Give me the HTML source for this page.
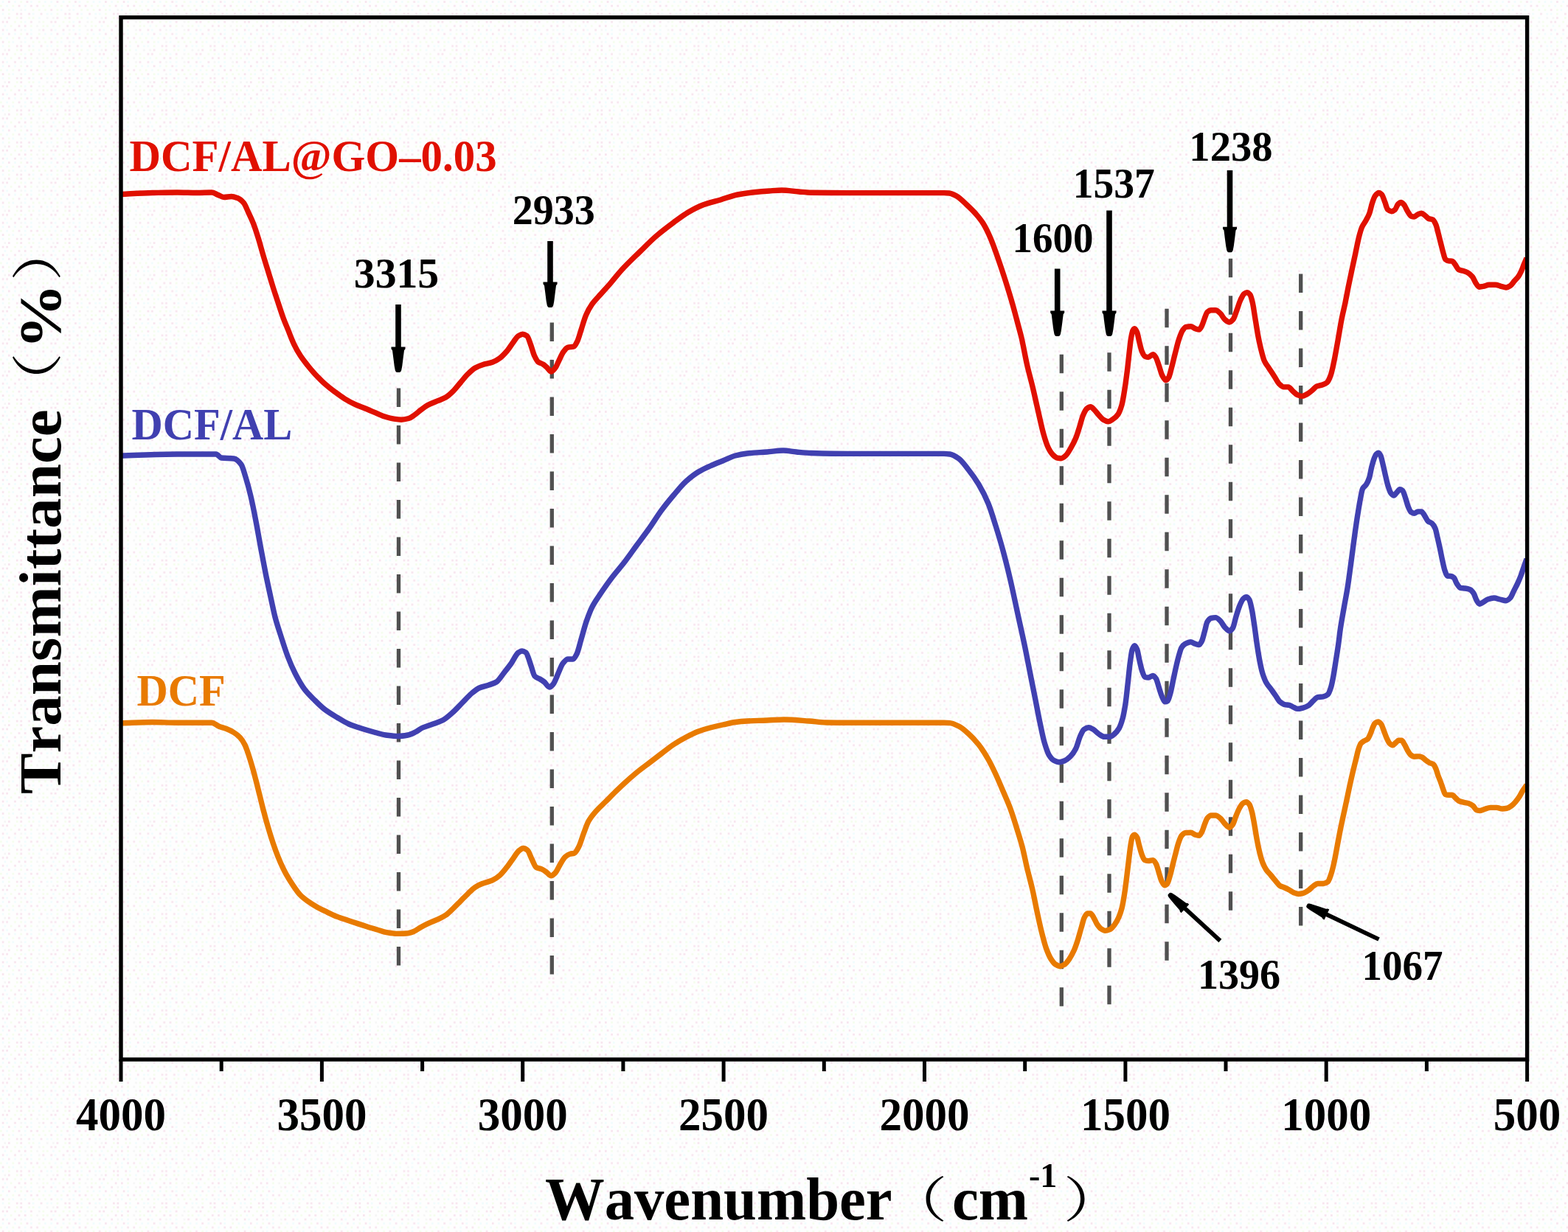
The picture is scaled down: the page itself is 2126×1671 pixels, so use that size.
<!DOCTYPE html>
<html lang="en"><head><meta charset="utf-8"><title>FTIR spectra</title>
<style>
html,body{margin:0;padding:0;background:#fefefe;}
body{width:2126px;height:1671px;overflow:hidden;}
svg{display:block;}
text{font-family:"Liberation Serif","Noto Serif CJK SC",serif;font-weight:bold;font-kerning:none;}
.paren{font-family:"Noto Serif CJK SC","Noto Sans CJK SC",serif;font-weight:normal;}
</style></head><body>
<svg width="2126" height="1671" viewBox="0 0 2126 1671">
<rect x="0" y="0" width="2126" height="1671" fill="#fefefe"/>

<defs><pattern id="dither" width="65.6" height="43.6" patternUnits="userSpaceOnUse"><rect x="2.7" y="1.20" width="2.7" height="2.7" fill="#f0fcfd"/><rect x="10.9" y="1.20" width="2.7" height="2.7" fill="#f7e4ee"/><rect x="19.1" y="1.20" width="2.7" height="2.7" fill="#f0fcfd"/><rect x="27.3" y="1.20" width="2.7" height="2.7" fill="#f4fdec"/><rect x="35.5" y="1.20" width="2.7" height="2.7" fill="#f7e4ee"/><rect x="41.0" y="1.20" width="2.7" height="2.7" fill="#f0fcfd"/><rect x="51.9" y="1.20" width="2.7" height="2.7" fill="#f4fdec"/><rect x="60.1" y="1.20" width="2.7" height="2.7" fill="#f0fcfd"/><rect x="0.0" y="6.65" width="2.7" height="2.7" fill="#f4fdec"/><rect x="8.2" y="6.65" width="2.7" height="2.7" fill="#f0fcfd"/><rect x="16.4" y="6.65" width="2.7" height="2.7" fill="#f4fdec"/><rect x="24.6" y="6.65" width="2.7" height="2.7" fill="#f7e4ee"/><rect x="32.8" y="6.65" width="2.7" height="2.7" fill="#f0fcfd"/><rect x="41.0" y="6.65" width="2.7" height="2.7" fill="#f7e4ee"/><rect x="49.2" y="6.65" width="2.7" height="2.7" fill="#f7e4ee"/><rect x="57.4" y="6.65" width="2.7" height="2.7" fill="#f4fdec"/><rect x="2.7" y="12.10" width="2.7" height="2.7" fill="#f7e4ee"/><rect x="10.9" y="12.10" width="2.7" height="2.7" fill="#f4fdec"/><rect x="16.4" y="12.10" width="2.7" height="2.7" fill="#f0fcfd"/><rect x="27.3" y="12.10" width="2.7" height="2.7" fill="#f5f5f5"/><rect x="32.8" y="12.10" width="2.7" height="2.7" fill="#f0fcfd"/><rect x="43.7" y="12.10" width="2.7" height="2.7" fill="#f4fdec"/><rect x="51.9" y="12.10" width="2.7" height="2.7" fill="#f4fdec"/><rect x="60.1" y="12.10" width="2.7" height="2.7" fill="#f4fdec"/><rect x="2.7" y="17.55" width="2.7" height="2.7" fill="#f0fcfd"/><rect x="10.9" y="17.55" width="2.7" height="2.7" fill="#f4fdec"/><rect x="21.8" y="17.55" width="2.7" height="2.7" fill="#f7e4ee"/><rect x="27.3" y="17.55" width="2.7" height="2.7" fill="#f7e4ee"/><rect x="38.2" y="17.55" width="2.7" height="2.7" fill="#f7e4ee"/><rect x="43.7" y="17.55" width="2.7" height="2.7" fill="#f0fcfd"/><rect x="54.6" y="17.55" width="2.7" height="2.7" fill="#f7e4ee"/><rect x="62.8" y="17.55" width="2.7" height="2.7" fill="#f0fcfd"/><rect x="5.4" y="23.00" width="2.7" height="2.7" fill="#f5f5f5"/><rect x="10.9" y="23.00" width="2.7" height="2.7" fill="#f7e4ee"/><rect x="21.8" y="23.00" width="2.7" height="2.7" fill="#f4fdec"/><rect x="27.3" y="23.00" width="2.7" height="2.7" fill="#f7e4ee"/><rect x="38.2" y="23.00" width="2.7" height="2.7" fill="#f4fdec"/><rect x="43.7" y="23.00" width="2.7" height="2.7" fill="#f4fdec"/><rect x="51.9" y="23.00" width="2.7" height="2.7" fill="#f0fcfd"/><rect x="62.8" y="23.00" width="2.7" height="2.7" fill="#f5f5f5"/><rect x="2.7" y="28.45" width="2.7" height="2.7" fill="#f7e4ee"/><rect x="8.2" y="28.45" width="2.7" height="2.7" fill="#f7e4ee"/><rect x="19.1" y="28.45" width="2.7" height="2.7" fill="#f4fdec"/><rect x="27.3" y="28.45" width="2.7" height="2.7" fill="#f4fdec"/><rect x="32.8" y="28.45" width="2.7" height="2.7" fill="#f0fcfd"/><rect x="41.0" y="28.45" width="2.7" height="2.7" fill="#f7e4ee"/><rect x="51.9" y="28.45" width="2.7" height="2.7" fill="#f5f5f5"/><rect x="57.4" y="28.45" width="2.7" height="2.7" fill="#f4fdec"/><rect x="62.9" y="33.90" width="2.7" height="2.7" fill="#f4fdec"/><rect x="5.5" y="33.90" width="2.7" height="2.7" fill="#f0fcfd"/><rect x="13.7" y="33.90" width="2.7" height="2.7" fill="#f4fdec"/><rect x="24.6" y="33.90" width="2.7" height="2.7" fill="#f7e4ee"/><rect x="32.8" y="33.90" width="2.7" height="2.7" fill="#f7e4ee"/><rect x="41.0" y="33.90" width="2.7" height="2.7" fill="#f4fdec"/><rect x="49.2" y="33.90" width="2.7" height="2.7" fill="#f5f5f5"/><rect x="57.4" y="33.90" width="2.7" height="2.7" fill="#f4fdec"/><rect x="2.7" y="39.35" width="2.7" height="2.7" fill="#f7e4ee"/><rect x="8.2" y="39.35" width="2.7" height="2.7" fill="#f0fcfd"/><rect x="19.1" y="39.35" width="2.7" height="2.7" fill="#f7e4ee"/><rect x="27.3" y="39.35" width="2.7" height="2.7" fill="#f5f5f5"/><rect x="32.8" y="39.35" width="2.7" height="2.7" fill="#f0fcfd"/><rect x="41.0" y="39.35" width="2.7" height="2.7" fill="#f0fcfd"/><rect x="51.9" y="39.35" width="2.7" height="2.7" fill="#f5f5f5"/><rect x="57.4" y="39.35" width="2.7" height="2.7" fill="#f7e4ee"/></pattern></defs>
<rect x="0" y="0" width="2126" height="1671" fill="url(#dither)"/>
<g stroke="#505050" stroke-width="5.3" stroke-dasharray="25.5 25.0" fill="none">
<line x1="540.5" y1="526.5" x2="540.5" y2="1309.5"/>
<line x1="748.3" y1="437.5" x2="748.3" y2="1321.5"/>
<line x1="1439.3" y1="480.7" x2="1439.3" y2="1364.7"/>
<line x1="1504" y1="478.2" x2="1504" y2="1362.2"/>
<line x1="1582" y1="418.8" x2="1582" y2="1302.8"/>
<line x1="1668.5" y1="350.7" x2="1668.5" y2="1234.7"/>
<line x1="1763.7" y1="371.5" x2="1763.7" y2="1255.5"/>
</g>
<defs><clipPath id="plotclip"><rect x="164" y="23.6" width="1906.6" height="1413.4"/></clipPath></defs>
<g clip-path="url(#plotclip)">
<path d="M164.0,980.8C178.3,980.4 192.5,979.5 206.8,979.5C217.9,979.5 229.1,980.2 240.2,980.2C255.8,980.2 271.4,980.2 287.0,980.2C290.3,980.2 293.7,983.9 297.0,985.2C300.3,986.5 303.7,987.2 307.0,988.5C310.3,989.8 313.7,991.4 317.0,993.5C319.8,995.2 322.6,997.2 325.4,1000.2C327.6,1002.5 329.8,1005.9 332.0,1010.2C333.7,1013.5 335.3,1018.7 337.0,1023.6C338.7,1028.6 340.4,1034.4 342.1,1040.3C343.8,1046.1 345.4,1052.3 347.1,1058.7C348.8,1065.1 350.4,1072.0 352.1,1078.7C353.8,1085.4 355.4,1092.3 357.1,1098.7C358.8,1105.1 360.4,1111.3 362.1,1117.1C363.8,1122.9 365.4,1128.5 367.1,1133.8C369.3,1140.9 371.6,1147.7 373.8,1153.8C376.0,1159.9 378.3,1165.5 380.5,1170.5C383.3,1176.7 386.0,1182.3 388.8,1187.2C391.6,1192.2 394.4,1196.5 397.2,1200.6C400.5,1205.5 403.9,1210.6 407.2,1214.0C410.5,1217.4 413.9,1219.9 417.2,1222.3C421.7,1225.5 426.1,1228.2 430.6,1230.7C435.0,1233.2 439.5,1235.2 443.9,1237.3C448.4,1239.4 452.8,1241.7 457.3,1243.4C461.8,1245.1 466.2,1246.5 470.7,1248.0C475.1,1249.5 479.6,1251.0 484.0,1252.4C488.5,1253.9 492.9,1255.3 497.4,1256.7C501.8,1258.1 506.3,1259.4 510.7,1260.7C515.2,1262.0 519.6,1263.9 524.1,1264.7C528.6,1265.5 533.0,1266.4 537.5,1266.4C541.9,1266.4 546.4,1266.2 550.8,1266.0C554.1,1265.8 557.5,1264.6 560.8,1263.4C564.2,1262.2 567.5,1259.2 570.9,1257.4C574.2,1255.6 577.6,1253.9 580.9,1252.4C585.3,1250.3 589.8,1248.8 594.2,1246.7C597.6,1245.1 600.9,1243.6 604.3,1241.3C607.6,1239.1 611.0,1235.5 614.3,1232.3C617.6,1229.1 621.0,1225.6 624.3,1222.3C627.6,1219.0 631.0,1215.5 634.3,1212.3C637.6,1209.1 641.0,1205.4 644.3,1203.3C647.7,1201.1 651.0,1199.6 654.4,1198.3C658.8,1196.5 663.3,1195.9 667.7,1193.9C671.0,1192.4 674.4,1190.0 677.7,1187.2C681.1,1184.3 684.4,1179.8 687.8,1175.5C690.6,1172.0 693.3,1167.6 696.1,1163.9C698.7,1160.4 701.2,1155.8 703.8,1153.8C705.7,1152.3 707.6,1150.5 709.5,1150.5C711.4,1150.5 713.3,1151.7 715.2,1153.2C717.2,1154.7 719.2,1161.6 721.2,1165.5C723.2,1169.4 725.2,1175.5 727.2,1176.6C729.6,1177.9 732.1,1177.9 734.5,1178.9C736.7,1179.8 739.0,1181.6 741.2,1183.2C743.2,1184.6 745.2,1187.9 747.2,1187.9C749.1,1187.9 751.0,1185.8 752.9,1183.9C755.1,1181.7 757.4,1175.8 759.6,1172.2C761.8,1168.6 764.1,1164.1 766.3,1162.2C768.5,1160.3 770.8,1158.8 773.0,1158.2C774.9,1157.7 776.7,1157.8 778.6,1157.2C780.6,1156.6 782.6,1152.5 784.6,1148.8C786.8,1144.7 789.1,1136.3 791.3,1130.5C793.5,1124.7 795.8,1117.8 798.0,1113.8C801.3,1107.9 804.7,1104.2 808.0,1100.4C812.5,1095.2 816.9,1091.5 821.4,1087.0C825.8,1082.6 830.3,1078.0 834.7,1073.7C838.8,1069.7 842.9,1065.7 847.0,1062.0C852.3,1057.1 857.7,1052.4 863.0,1048.0C868.7,1043.4 874.3,1039.3 880.0,1035.0C885.7,1030.7 891.3,1026.3 897.0,1022.0C902.3,1018.0 907.7,1013.5 913.0,1010.0C918.7,1006.3 924.3,1003.0 930.0,1000.0C935.7,997.0 941.3,994.1 947.0,992.0C952.3,990.0 957.7,988.4 963.0,987.0C968.7,985.5 974.3,984.2 980.0,983.0C985.7,981.8 991.3,980.2 997.0,979.5C1002.3,978.8 1007.7,978.3 1013.0,978.0C1022.0,977.5 1031.0,977.4 1040.0,977.0C1047.7,976.7 1055.3,976.0 1063.0,976.0C1074.3,976.0 1085.7,977.2 1097.0,978.0C1104.7,978.5 1112.3,979.9 1120.0,980.0C1130.0,980.2 1140.0,980.3 1150.0,980.3C1166.7,980.3 1183.3,980.3 1200.0,980.3C1216.7,980.3 1233.3,980.3 1250.0,980.3C1260.0,980.3 1270.0,980.3 1280.0,980.3C1282.7,980.3 1285.3,980.4 1288.0,980.6C1292.0,980.9 1296.0,983.0 1300.0,985.0C1304.3,987.1 1308.7,991.1 1313.0,995.0C1317.7,999.2 1322.3,1004.1 1327.0,1010.0C1331.3,1015.5 1335.7,1022.4 1340.0,1030.0C1343.3,1035.8 1346.7,1042.9 1350.0,1050.0C1353.3,1057.1 1356.7,1065.2 1360.0,1073.0C1363.3,1080.8 1366.7,1088.0 1370.0,1097.0C1373.3,1106.0 1376.7,1117.2 1380.0,1128.0C1382.1,1134.7 1384.1,1141.1 1386.2,1149.0C1388.3,1157.1 1390.4,1168.1 1392.5,1177.0C1395.0,1187.5 1397.5,1196.0 1400.0,1207.0C1402.1,1216.1 1404.1,1227.5 1406.2,1237.0C1408.3,1246.5 1410.3,1256.2 1412.4,1264.4C1414.5,1272.7 1416.6,1281.2 1418.7,1286.9C1420.8,1292.5 1422.8,1297.4 1424.9,1300.6C1427.0,1303.8 1429.0,1306.8 1431.1,1308.0C1433.2,1309.3 1435.3,1310.5 1437.4,1310.5C1439.5,1310.5 1441.5,1309.2 1443.6,1308.0C1445.7,1306.7 1447.8,1303.6 1449.9,1300.6C1452.0,1297.6 1454.0,1293.9 1456.1,1289.3C1457.8,1285.6 1459.4,1280.7 1461.1,1275.6C1462.8,1270.5 1464.4,1263.8 1466.1,1258.2C1467.5,1253.5 1468.9,1247.1 1470.3,1244.4C1471.6,1241.9 1473.0,1239.0 1474.3,1239.0C1475.7,1239.0 1477.2,1239.0 1478.6,1239.0C1480.0,1239.0 1481.4,1242.2 1482.8,1244.4C1484.3,1246.7 1485.8,1250.9 1487.3,1253.2C1489.0,1255.7 1490.6,1258.2 1492.3,1259.4C1494.4,1260.9 1496.4,1262.4 1498.5,1262.4C1500.6,1262.4 1502.7,1261.6 1504.8,1260.7C1506.9,1259.8 1508.9,1257.1 1511.0,1254.4C1512.9,1251.9 1514.8,1248.6 1516.7,1244.4C1518.1,1241.2 1519.6,1237.4 1521.0,1232.0C1522.2,1227.3 1523.5,1219.8 1524.7,1212.0C1525.7,1205.7 1526.7,1197.4 1527.7,1189.5C1528.6,1182.4 1529.5,1174.3 1530.4,1167.0C1531.2,1160.2 1532.1,1152.2 1532.9,1147.1C1533.7,1142.0 1534.6,1135.9 1535.4,1134.7C1536.4,1133.2 1537.4,1132.2 1538.4,1132.2C1539.5,1132.2 1540.6,1134.0 1541.7,1135.9C1542.7,1137.6 1543.7,1143.5 1544.7,1147.1C1545.9,1151.5 1547.2,1156.7 1548.4,1159.6C1549.7,1162.6 1550.9,1166.1 1552.2,1166.6C1553.8,1167.2 1555.5,1167.6 1557.1,1167.6C1559.2,1167.6 1561.3,1166.6 1563.4,1166.6C1564.8,1166.6 1566.2,1169.4 1567.6,1172.0C1568.9,1174.4 1570.3,1180.5 1571.6,1184.6C1572.9,1188.5 1574.1,1193.5 1575.4,1195.8C1576.6,1198.1 1577.9,1200.8 1579.1,1200.8C1580.3,1200.8 1581.6,1199.7 1582.8,1198.3C1584.1,1196.9 1585.3,1191.3 1586.6,1187.0C1587.8,1182.8 1589.1,1176.9 1590.3,1172.0C1591.6,1167.0 1592.8,1161.9 1594.1,1157.1C1595.3,1152.4 1596.6,1146.9 1597.8,1143.4C1599.2,1139.3 1600.7,1135.1 1602.1,1133.4C1603.7,1131.5 1605.4,1129.9 1607.0,1129.7C1609.5,1129.4 1612.0,1129.2 1614.5,1129.2C1616.6,1129.2 1618.7,1131.5 1620.8,1132.2C1622.5,1132.7 1624.1,1133.4 1625.8,1133.4C1627.0,1133.4 1628.3,1130.6 1629.5,1128.4C1630.7,1126.2 1632.0,1121.5 1633.2,1118.4C1634.5,1115.3 1635.7,1111.2 1637.0,1109.7C1638.7,1107.8 1640.3,1106.0 1642.0,1106.0C1644.1,1106.0 1646.1,1106.0 1648.2,1106.0C1650.3,1106.0 1652.4,1108.0 1654.5,1109.7C1656.6,1111.3 1658.6,1115.2 1660.7,1117.2C1662.8,1119.2 1664.8,1122.2 1666.9,1122.2C1668.4,1122.2 1669.9,1120.3 1671.4,1118.4C1672.8,1116.6 1674.3,1110.7 1675.7,1107.2C1677.3,1103.2 1679.0,1098.8 1680.6,1096.0C1682.3,1093.2 1683.9,1090.1 1685.6,1089.2C1687.0,1088.4 1688.5,1087.7 1689.9,1087.7C1691.2,1087.7 1692.6,1089.3 1693.9,1091.0C1695.1,1092.5 1696.2,1096.7 1697.4,1101.0C1698.5,1104.9 1699.5,1111.4 1700.6,1117.2C1701.9,1124.1 1703.1,1133.0 1704.4,1139.6C1705.6,1146.1 1706.9,1152.2 1708.1,1157.1C1709.3,1162.0 1710.6,1166.5 1711.8,1169.6C1713.5,1173.8 1715.1,1177.1 1716.8,1179.6C1718.9,1182.7 1721.0,1184.5 1723.1,1187.0C1725.2,1189.5 1727.2,1192.1 1729.3,1194.5C1731.4,1196.9 1733.4,1200.3 1735.5,1201.5C1737.6,1202.7 1739.7,1203.1 1741.8,1204.0C1743.9,1204.9 1745.9,1205.9 1748.0,1207.0C1750.1,1208.1 1752.2,1209.9 1754.3,1210.7C1756.4,1211.5 1758.4,1212.5 1760.5,1212.5C1762.6,1212.5 1764.6,1212.0 1766.7,1211.5C1769.2,1210.9 1771.7,1209.2 1774.2,1207.5C1776.3,1206.1 1778.4,1203.4 1780.5,1202.0C1782.6,1200.6 1784.6,1198.5 1786.7,1198.5C1789.2,1198.5 1791.7,1198.5 1794.2,1198.5C1796.2,1198.5 1798.3,1197.5 1800.3,1196.0C1801.7,1195.0 1803.1,1190.4 1804.5,1186.5C1805.6,1183.4 1806.7,1179.1 1807.8,1174.5C1808.9,1170.1 1809.9,1164.5 1811.0,1159.0C1812.1,1153.2 1813.3,1146.5 1814.4,1140.5C1815.7,1133.8 1816.9,1127.2 1818.2,1121.0C1819.6,1114.3 1820.9,1108.3 1822.3,1102.0C1823.7,1095.7 1825.0,1089.4 1826.4,1083.0C1827.7,1076.7 1829.1,1070.1 1830.4,1064.0C1831.8,1057.8 1833.1,1051.7 1834.5,1046.0C1835.9,1040.3 1837.2,1035.0 1838.6,1029.5C1839.7,1025.2 1840.7,1019.8 1841.8,1016.5C1842.9,1013.1 1844.0,1009.6 1845.1,1008.3C1846.5,1006.6 1847.8,1005.9 1849.2,1005.1C1850.8,1004.1 1852.4,1004.0 1854.0,1002.7C1855.4,1001.6 1856.7,998.3 1858.1,995.3C1859.2,992.9 1860.3,988.8 1861.4,986.4C1862.5,984.1 1863.5,981.4 1864.6,980.7C1866.0,979.8 1867.3,979.0 1868.7,979.0C1870.1,979.0 1871.4,980.6 1872.8,982.3C1873.9,983.6 1874.9,987.7 1876.0,990.4C1877.4,993.9 1878.7,998.1 1880.1,1001.0C1881.4,1003.9 1882.8,1007.1 1884.1,1008.3C1885.5,1009.6 1886.8,1010.8 1888.2,1010.8C1889.6,1010.8 1890.9,1008.6 1892.3,1007.5C1893.7,1006.4 1895.0,1004.3 1896.4,1004.3C1897.7,1004.3 1899.1,1004.3 1900.4,1004.3C1901.8,1004.3 1903.1,1007.8 1904.5,1010.0C1905.9,1012.2 1907.2,1015.7 1908.6,1018.0C1909.9,1020.2 1911.3,1022.8 1912.6,1023.8C1914.2,1025.0 1915.9,1026.2 1917.5,1026.2C1919.4,1026.2 1921.3,1025.9 1923.2,1025.9C1924.8,1025.9 1926.4,1026.4 1928.0,1027.0C1929.7,1027.6 1931.3,1029.8 1933.0,1031.0C1934.6,1032.2 1936.3,1033.5 1937.9,1034.4C1939.8,1035.4 1941.6,1035.4 1943.5,1036.8C1944.6,1037.6 1945.7,1040.1 1946.8,1042.5C1947.9,1044.9 1948.9,1049.4 1950.0,1052.3C1951.1,1055.3 1952.2,1057.4 1953.3,1060.4C1954.4,1063.4 1955.5,1067.4 1956.6,1070.2C1957.7,1073.0 1958.7,1077.1 1959.8,1077.5C1961.2,1078.0 1962.5,1078.3 1963.9,1078.3C1965.5,1078.3 1967.2,1078.3 1968.8,1078.3C1970.4,1078.3 1972.0,1081.0 1973.6,1082.4C1975.2,1083.8 1976.9,1085.8 1978.5,1086.5C1980.7,1087.5 1982.8,1087.9 1985.0,1088.4C1987.2,1088.9 1989.3,1089.0 1991.5,1089.7C1993.4,1090.3 1995.3,1091.5 1997.2,1093.0C1998.8,1094.3 2000.5,1098.2 2002.1,1098.7C2003.7,1099.2 2005.4,1099.5 2007.0,1099.5C2008.9,1099.5 2010.8,1098.1 2012.7,1097.5C2015.4,1096.7 2018.1,1095.4 2020.8,1095.4C2023.5,1095.4 2026.3,1095.4 2029.0,1095.4C2031.7,1095.4 2034.4,1097.0 2037.1,1097.0C2039.3,1097.0 2041.4,1096.6 2043.6,1096.2C2045.5,1095.8 2047.4,1094.4 2049.3,1093.0C2051.2,1091.6 2053.1,1089.5 2055.0,1087.3C2056.6,1085.4 2058.3,1083.3 2059.9,1080.8C2061.3,1078.7 2062.6,1075.6 2064.0,1073.4C2065.1,1071.7 2066.1,1070.2 2067.2,1068.6C2068.1,1067.2 2069.1,1065.9 2070.0,1064.5" fill="none" stroke="#e87a00" stroke-width="7.4" stroke-linejoin="round" stroke-linecap="butt"/>
<path d="M164.0,618.0C189.3,617.3 214.7,616.0 240.0,616.0C257.7,616.0 275.3,616.0 293.0,616.0C295.3,616.0 297.7,620.7 300.0,621.0C305.7,621.7 311.3,621.3 317.0,622.0C320.3,622.4 323.7,625.6 327.0,630.0C329.0,632.6 331.0,640.6 333.0,647.0C335.3,654.5 337.7,663.2 340.0,673.0C342.3,682.8 344.7,694.9 347.0,707.0C349.0,717.3 351.0,729.2 353.0,740.0C355.3,752.6 357.7,765.4 360.0,777.0C362.3,788.6 364.7,799.3 367.0,810.0C369.0,819.2 371.0,829.4 373.0,837.0C375.3,845.9 377.7,852.7 380.0,860.0C383.3,870.5 386.7,881.3 390.0,890.0C393.3,898.7 396.7,906.5 400.0,913.0C404.3,921.5 408.7,929.3 413.0,935.0C417.7,941.1 422.3,945.4 427.0,950.0C431.3,954.3 435.7,958.7 440.0,962.0C445.7,966.3 451.3,969.6 457.0,973.0C462.3,976.2 467.7,979.7 473.0,982.0C478.7,984.5 484.3,986.2 490.0,988.0C495.7,989.8 501.3,991.5 507.0,993.0C512.3,994.4 517.7,996.3 523.0,997.0C528.7,997.7 534.3,998.5 540.0,998.5C544.3,998.5 548.7,997.8 553.0,997.0C556.3,996.4 559.7,994.6 563.0,993.0C566.3,991.4 569.7,988.5 573.0,987.0C577.7,984.9 582.3,983.7 587.0,982.0C591.3,980.4 595.7,979.2 600.0,977.0C604.3,974.8 608.7,970.8 613.0,967.0C617.7,962.9 622.3,957.7 627.0,953.0C631.3,948.7 635.7,943.5 640.0,940.0C643.3,937.3 646.7,934.4 650.0,933.0C654.3,931.1 658.7,930.5 663.0,929.0C666.3,927.8 669.7,927.0 673.0,925.0C676.3,923.0 679.7,917.2 683.0,913.0C686.3,908.8 689.7,904.6 693.0,900.0C696.3,895.4 699.7,887.0 703.0,885.0C704.7,884.0 706.3,883.0 708.0,883.0C709.7,883.0 711.3,883.9 713.0,885.0C715.3,886.6 717.7,896.7 720.0,903.0C721.7,907.5 723.3,915.4 725.0,917.0C727.3,919.3 729.7,919.6 732.0,921.0C734.0,922.2 736.0,923.4 738.0,925.0C740.3,926.9 742.7,932.0 745.0,932.0C746.7,932.0 748.3,929.9 750.0,928.0C752.3,925.3 754.7,918.0 757.0,913.0C759.0,908.7 761.0,902.5 763.0,900.0C765.3,897.1 767.7,894.0 770.0,894.0C772.3,894.0 774.7,894.0 777.0,894.0C778.7,894.0 780.3,890.2 782.0,887.0C784.0,883.1 786.0,873.8 788.0,867.0C790.3,859.1 792.7,849.8 795.0,843.0C797.7,835.3 800.3,828.2 803.0,823.0C806.3,816.4 809.7,812.0 813.0,807.0C818.7,798.5 824.3,790.5 830.0,783.0C835.7,775.5 841.3,769.4 847.0,762.0C852.3,755.1 857.7,747.3 863.0,740.0C868.7,732.3 874.3,725.0 880.0,717.0C885.7,709.0 891.3,699.7 897.0,692.0C902.3,684.8 907.7,678.3 913.0,672.0C918.7,665.3 924.3,658.1 930.0,653.0C935.7,647.9 941.3,643.4 947.0,640.0C952.3,636.8 957.7,634.4 963.0,632.0C968.7,629.4 974.3,627.3 980.0,625.0C985.7,622.7 991.3,619.5 997.0,618.0C1002.3,616.6 1007.7,615.6 1013.0,615.0C1022.0,614.0 1031.0,613.7 1040.0,613.0C1047.3,612.4 1054.7,611.0 1062.0,611.0C1068.0,611.0 1074.0,612.5 1080.0,613.0C1086.7,613.6 1093.3,614.3 1100.0,614.5C1116.7,615.0 1133.3,615.4 1150.0,615.4C1166.7,615.4 1183.3,615.4 1200.0,615.4C1216.7,615.4 1233.3,615.4 1250.0,615.4C1260.0,615.4 1270.0,615.4 1280.0,615.4C1282.7,615.4 1285.3,615.7 1288.0,616.0C1292.0,616.5 1296.0,619.2 1300.0,622.0C1304.3,625.0 1308.7,631.5 1313.0,637.0C1317.7,642.9 1322.3,649.2 1327.0,657.0C1331.3,664.2 1335.7,672.5 1340.0,683.0C1343.3,691.1 1346.7,702.4 1350.0,713.0C1353.3,723.6 1356.7,734.7 1360.0,747.0C1363.3,759.3 1366.7,772.7 1370.0,787.0C1373.3,801.3 1376.7,817.7 1380.0,833.0C1383.3,848.3 1386.7,862.9 1390.0,879.0C1392.5,891.1 1395.0,904.4 1397.5,917.0C1399.6,927.4 1401.6,937.6 1403.7,948.0C1405.8,958.6 1407.9,970.1 1410.0,980.0C1412.1,989.8 1414.1,1000.6 1416.2,1007.5C1418.3,1014.4 1420.3,1020.9 1422.4,1024.2C1424.5,1027.5 1426.6,1030.1 1428.7,1031.2C1431.2,1032.5 1433.6,1033.7 1436.1,1033.7C1438.6,1033.7 1441.1,1032.7 1443.6,1031.7C1446.1,1030.7 1448.6,1028.6 1451.1,1026.2C1453.6,1023.8 1456.1,1020.3 1458.6,1015.5C1460.7,1011.5 1462.7,1002.4 1464.8,998.0C1466.5,994.4 1468.1,990.4 1469.8,989.3C1471.9,987.9 1473.9,986.8 1476.0,986.8C1478.1,986.8 1480.2,988.2 1482.3,989.3C1484.8,990.6 1487.3,993.9 1489.8,995.5C1492.3,997.1 1494.8,999.3 1497.3,999.3C1499.8,999.3 1502.3,999.3 1504.8,999.3C1506.9,999.3 1508.9,997.2 1511.0,995.5C1513.1,993.8 1515.1,991.5 1517.2,988.0C1518.9,985.2 1520.5,980.4 1522.2,974.3C1523.5,969.7 1524.7,962.7 1526.0,954.4C1527.1,947.4 1528.1,936.4 1529.2,927.0C1530.2,918.1 1531.2,906.9 1532.2,899.5C1533.2,892.1 1534.2,883.3 1535.2,880.8C1536.3,878.1 1537.3,875.8 1538.4,875.8C1539.5,875.8 1540.6,878.3 1541.7,880.8C1542.7,883.1 1543.7,890.2 1544.7,894.5C1545.9,899.8 1547.2,905.9 1548.4,909.5C1549.7,913.2 1550.9,917.8 1552.2,918.2C1553.8,918.7 1555.5,919.0 1557.1,919.0C1559.2,919.0 1561.3,916.4 1563.4,916.4C1564.8,916.4 1566.2,918.5 1567.6,920.7C1568.9,922.8 1570.3,929.2 1571.6,933.2C1573.0,937.5 1574.5,942.6 1575.9,945.6C1577.1,948.2 1578.4,951.9 1579.6,951.9C1580.8,951.9 1582.1,951.4 1583.3,950.6C1584.6,949.8 1585.8,944.0 1587.1,939.4C1588.3,934.9 1589.6,927.7 1590.8,922.0C1592.1,916.1 1593.3,910.0 1594.6,904.5C1595.8,899.2 1597.1,893.7 1598.3,889.5C1599.6,885.2 1600.8,880.3 1602.1,878.3C1603.7,875.8 1605.4,874.2 1607.0,873.3C1609.5,872.0 1612.0,870.8 1614.5,870.8C1616.6,870.8 1618.7,872.7 1620.8,873.3C1622.5,873.8 1624.1,874.5 1625.8,874.5C1627.0,874.5 1628.3,871.9 1629.5,869.5C1630.7,867.1 1632.0,861.3 1633.2,857.0C1634.5,852.6 1635.7,845.3 1637.0,843.3C1638.7,840.7 1640.3,838.8 1642.0,838.4C1644.1,837.9 1646.1,837.6 1648.2,837.6C1650.3,837.6 1652.4,840.0 1654.5,842.0C1656.6,843.9 1658.6,848.7 1660.7,850.8C1662.8,852.9 1664.8,855.8 1666.9,855.8C1668.4,855.8 1669.9,854.0 1671.4,852.0C1672.8,850.0 1674.3,841.8 1675.7,837.1C1677.3,831.8 1679.0,825.9 1680.6,822.0C1682.3,818.0 1683.9,813.7 1685.6,812.2C1687.0,810.9 1688.5,809.7 1689.9,809.7C1691.2,809.7 1692.6,811.4 1693.9,813.4C1695.1,815.2 1696.2,821.4 1697.4,827.0C1698.5,832.1 1699.5,839.9 1700.6,847.0C1701.9,855.5 1703.1,866.1 1704.4,874.5C1705.6,882.6 1706.9,890.7 1708.1,897.0C1709.3,903.3 1710.6,909.2 1711.8,913.2C1713.5,918.6 1715.1,922.7 1716.8,925.7C1718.9,929.5 1721.0,931.5 1723.1,934.4C1725.2,937.3 1727.2,940.2 1729.3,943.1C1731.4,946.0 1733.4,950.2 1735.5,951.9C1737.6,953.6 1739.7,955.2 1741.8,955.6C1743.9,956.0 1745.9,956.0 1748.0,956.4C1750.1,956.8 1752.2,958.5 1754.3,959.4C1755.9,960.1 1757.6,961.4 1759.2,961.4C1761.7,961.4 1764.2,960.7 1766.7,960.1C1769.2,959.5 1771.7,958.4 1774.2,956.9C1776.3,955.6 1778.4,952.5 1780.5,950.6C1782.6,948.8 1784.6,946.0 1786.7,945.6C1789.2,945.2 1791.7,945.3 1794.2,944.9C1796.3,944.6 1798.3,943.6 1800.4,941.9C1801.8,940.7 1803.3,936.4 1804.7,931.9C1805.8,928.5 1806.8,922.7 1807.9,917.0C1809.0,911.3 1810.0,903.8 1811.1,897.0C1812.3,889.6 1813.4,882.7 1814.6,874.5C1815.6,867.7 1816.5,858.5 1817.5,852.0C1819.1,841.2 1820.7,833.2 1822.3,824.0C1823.9,814.6 1825.6,806.7 1827.2,796.4C1828.6,787.7 1829.9,777.1 1831.3,767.0C1832.4,759.1 1833.4,750.7 1834.5,742.7C1835.6,734.5 1836.7,726.0 1837.8,718.3C1838.9,710.9 1839.9,703.9 1841.0,697.2C1842.1,690.3 1843.2,683.3 1844.3,677.6C1845.4,672.1 1846.4,665.1 1847.5,663.0C1849.1,659.8 1850.8,659.8 1852.4,657.3C1853.8,655.2 1855.1,652.4 1856.5,648.3C1857.6,645.1 1858.6,637.9 1859.7,633.7C1860.8,629.4 1861.9,625.1 1863.0,622.3C1864.1,619.6 1865.1,616.7 1866.2,615.8C1867.2,615.0 1868.2,614.2 1869.2,614.2C1870.1,614.2 1871.1,616.3 1872.0,618.2C1873.1,620.4 1874.1,626.0 1875.2,630.4C1876.3,634.9 1877.4,640.3 1878.5,645.0C1879.6,649.5 1880.6,654.6 1881.7,658.0C1883.1,662.4 1884.4,667.0 1885.8,668.7C1887.1,670.4 1888.5,672.0 1889.8,672.0C1891.2,672.0 1892.5,669.3 1893.9,667.9C1895.3,666.5 1896.6,663.8 1898.0,663.8C1899.2,663.8 1900.5,664.5 1901.7,665.4C1902.9,666.3 1904.1,671.1 1905.3,674.4C1906.7,678.2 1908.0,684.2 1909.4,687.4C1910.7,690.5 1912.1,693.8 1913.4,694.7C1914.8,695.6 1916.1,696.4 1917.5,696.4C1919.1,696.4 1920.8,693.9 1922.4,693.9C1924.0,693.9 1925.7,693.9 1927.3,693.9C1928.6,693.9 1930.0,696.9 1931.3,698.8C1932.9,701.1 1934.6,705.5 1936.2,706.9C1938.1,708.5 1940.0,708.5 1941.9,710.2C1943.3,711.4 1944.6,713.5 1946.0,716.7C1947.1,719.2 1948.1,725.2 1949.2,729.7C1950.3,734.4 1951.4,739.3 1952.5,744.4C1953.6,749.5 1954.7,755.7 1955.8,760.6C1956.9,765.4 1957.9,770.6 1959.0,773.7C1960.1,776.9 1961.2,780.8 1962.3,781.0C1963.9,781.3 1965.5,781.2 1967.1,781.5C1968.5,781.7 1969.8,782.4 1971.2,783.4C1972.6,784.4 1973.9,789.6 1975.3,791.6C1976.9,794.0 1978.6,797.0 1980.2,797.3C1982.4,797.7 1984.5,797.7 1986.7,798.0C1988.9,798.3 1991.0,798.8 1993.2,799.7C1994.8,800.4 1996.4,802.3 1998.0,804.6C1999.4,806.6 2000.7,812.1 2002.1,814.3C2003.5,816.5 2004.8,819.2 2006.2,819.2C2007.8,819.2 2009.4,817.7 2011.0,816.8C2013.2,815.6 2015.4,813.4 2017.6,812.7C2020.3,811.8 2023.0,811.0 2025.7,811.0C2028.4,811.0 2031.2,812.4 2033.9,813.0C2036.6,813.6 2039.3,814.7 2042.0,814.7C2043.9,814.7 2045.8,812.9 2047.7,811.0C2049.3,809.4 2051.0,804.5 2052.6,801.3C2054.2,798.1 2055.9,795.1 2057.5,791.6C2059.1,788.1 2060.7,784.5 2062.3,780.2C2063.4,777.3 2064.5,773.6 2065.6,770.4C2067.1,766.2 2068.5,762.1 2070.0,758.0" fill="none" stroke="#4040b0" stroke-width="7.4" stroke-linejoin="round" stroke-linecap="butt"/>
<path d="M164.0,263.5C178.3,262.8 192.5,261.8 206.8,261.5C217.9,261.3 229.1,261.0 240.2,261.0C249.1,261.0 258.0,261.5 266.9,261.5C273.6,261.5 280.3,261.0 287.0,261.0C289.8,261.0 292.5,263.1 295.3,264.2C298.1,265.3 300.9,267.5 303.7,267.5C307.0,267.5 310.4,266.5 313.7,266.5C316.5,266.5 319.2,267.5 322.0,268.5C324.8,269.5 327.6,271.9 330.4,275.2C332.6,277.8 334.8,283.9 337.0,288.6C339.2,293.4 341.5,297.9 343.7,303.6C345.9,309.3 348.2,316.5 350.4,323.7C352.6,330.9 354.9,339.5 357.1,347.0C359.3,354.5 361.6,361.6 363.8,368.8C366.0,376.0 368.3,383.5 370.5,390.5C372.7,397.4 374.9,403.9 377.1,410.5C379.3,417.2 381.6,424.4 383.8,430.5C386.0,436.6 388.3,441.7 390.5,447.2C393.3,454.0 396.0,461.6 398.8,467.3C401.6,473.1 404.4,478.0 407.2,482.3C410.5,487.4 413.9,491.5 417.2,495.7C420.5,499.9 423.9,503.8 427.2,507.4C431.7,512.2 436.1,516.7 440.6,520.7C445.1,524.7 449.5,528.1 454.0,531.4C458.4,534.7 462.9,538.1 467.3,540.8C471.8,543.5 476.2,546.0 480.7,548.1C485.1,550.2 489.6,551.7 494.0,553.5C498.5,555.3 502.9,557.2 507.4,559.1C511.9,561.0 516.3,563.4 520.8,564.8C525.2,566.2 529.7,567.6 534.1,568.2C537.4,568.7 540.8,569.2 544.1,569.2C547.5,569.2 550.8,568.4 554.2,567.5C557.0,566.8 559.7,564.4 562.5,562.5C565.3,560.6 568.1,557.8 570.9,555.8C574.2,553.4 577.6,550.9 580.9,549.1C585.3,546.8 589.8,545.3 594.2,543.4C597.6,542.0 600.9,541.0 604.3,539.1C607.6,537.2 611.0,534.0 614.3,530.7C617.6,527.4 621.0,522.9 624.3,519.0C627.6,515.1 631.0,510.6 634.3,507.4C637.6,504.2 641.0,500.9 644.3,499.0C647.7,497.1 651.0,495.8 654.4,494.7C658.8,493.3 663.3,492.9 667.7,491.3C671.0,490.1 674.4,488.1 677.7,485.7C681.1,483.3 684.4,479.5 687.8,475.6C690.6,472.4 693.3,467.6 696.1,464.0C698.3,461.1 700.6,456.9 702.8,455.6C704.7,454.5 706.6,453.3 708.5,453.3C710.5,453.3 712.5,454.3 714.5,455.6C716.2,456.7 717.8,462.9 719.5,467.3C721.2,471.7 722.8,478.7 724.5,482.3C726.2,485.9 727.8,489.4 729.5,490.7C731.7,492.4 734.0,492.6 736.2,494.0C737.9,495.0 739.5,496.5 741.2,498.0C743.2,499.8 745.2,504.0 747.2,504.0C749.1,504.0 751.0,501.3 752.9,499.0C754.6,497.0 756.2,492.3 757.9,489.0C759.9,485.0 761.9,480.0 763.9,477.3C765.8,474.7 767.7,471.8 769.6,471.3C772.4,470.5 775.2,470.8 778.0,470.0C779.7,469.5 781.3,465.7 783.0,462.3C784.7,458.9 786.3,452.2 788.0,447.2C790.2,440.5 792.4,432.2 794.6,427.2C797.4,420.8 800.2,416.2 803.0,412.2C806.9,406.7 810.8,403.2 814.7,398.8C819.1,393.8 823.6,388.9 828.0,383.8C833.0,378.0 838.0,371.5 843.0,366.0C851.0,357.3 859.0,349.8 867.0,342.0C874.7,334.5 882.3,326.6 890.0,320.0C897.7,313.4 905.3,307.7 913.0,302.0C919.7,297.1 926.3,291.9 933.0,288.0C939.7,284.1 946.3,280.5 953.0,278.0C961.0,275.0 969.0,273.4 977.0,271.0C984.7,268.7 992.3,265.5 1000.0,264.0C1006.7,262.7 1013.3,261.7 1020.0,261.0C1027.7,260.2 1035.3,259.5 1043.0,259.0C1048.7,258.6 1054.3,258.0 1060.0,258.0C1067.7,258.0 1075.3,259.4 1083.0,260.0C1088.7,260.5 1094.3,261.2 1100.0,261.3C1116.7,261.5 1133.3,261.6 1150.0,261.6C1166.7,261.6 1183.3,261.6 1200.0,261.6C1216.7,261.6 1233.3,261.6 1250.0,261.6C1260.0,261.6 1270.0,261.6 1280.0,261.6C1282.3,261.6 1284.7,261.8 1287.0,262.0C1290.3,262.3 1293.7,264.2 1297.0,266.0C1301.3,268.3 1305.7,273.0 1310.0,277.0C1314.3,281.0 1318.7,285.1 1323.0,290.0C1326.3,293.8 1329.7,297.7 1333.0,303.0C1336.3,308.3 1339.7,315.3 1343.0,323.0C1346.3,330.7 1349.7,340.5 1353.0,350.0C1356.3,359.5 1359.7,369.5 1363.0,380.0C1366.3,390.5 1369.7,401.3 1373.0,413.0C1375.3,421.2 1377.7,430.2 1380.0,439.0C1381.7,445.3 1383.3,450.9 1385.0,458.0C1387.5,468.6 1390.0,483.5 1392.5,494.5C1395.0,505.5 1397.5,514.0 1400.0,524.4C1402.5,534.7 1404.9,546.2 1407.4,556.8C1409.9,567.7 1412.5,580.2 1415.0,589.0C1417.0,595.9 1419.0,602.6 1421.0,606.7C1423.1,611.1 1425.3,614.6 1427.4,616.7C1429.5,618.7 1431.5,620.8 1433.6,621.2C1435.3,621.5 1436.9,621.7 1438.6,621.7C1440.7,621.7 1442.8,619.8 1444.9,618.0C1447.4,615.9 1449.9,611.0 1452.4,606.7C1454.5,603.1 1456.5,599.3 1458.6,594.3C1460.3,590.3 1461.9,584.5 1463.6,579.3C1465.3,574.1 1466.9,566.8 1468.6,563.0C1470.3,559.2 1471.9,555.6 1473.6,554.3C1475.3,553.0 1476.9,551.8 1478.6,551.8C1480.2,551.8 1481.9,554.1 1483.5,555.6C1485.6,557.5 1487.7,560.7 1489.8,563.0C1491.9,565.3 1493.9,568.1 1496.0,569.3C1498.1,570.5 1500.2,571.8 1502.3,571.8C1504.8,571.8 1507.2,569.7 1509.7,568.0C1511.8,566.6 1513.9,564.8 1516.0,561.8C1517.7,559.4 1519.3,555.1 1521.0,549.3C1522.2,545.0 1523.5,537.0 1524.7,529.4C1526.0,521.6 1527.2,512.2 1528.5,502.0C1529.3,495.3 1530.2,486.7 1531.0,479.5C1531.8,472.6 1532.6,464.1 1533.4,459.5C1534.3,454.6 1535.1,449.7 1536.0,448.3C1536.8,447.0 1537.6,445.8 1538.4,445.8C1539.5,445.8 1540.6,448.3 1541.7,450.8C1542.7,453.0 1543.7,459.4 1544.7,463.3C1545.9,468.1 1547.2,474.2 1548.4,477.0C1549.7,479.9 1550.9,482.6 1552.2,483.2C1553.8,484.0 1555.4,484.5 1557.0,484.5C1559.1,484.5 1561.3,480.7 1563.4,480.7C1564.6,480.7 1565.8,482.7 1567.0,484.5C1568.3,486.4 1569.6,490.8 1570.9,494.4C1572.6,499.0 1574.2,506.4 1575.9,509.4C1577.5,512.3 1579.2,515.7 1580.8,515.7C1582.1,515.7 1583.3,513.9 1584.6,512.0C1585.8,510.1 1587.1,503.9 1588.3,499.4C1590.0,493.3 1591.6,485.9 1593.3,479.5C1595.0,473.1 1596.6,465.8 1598.3,460.8C1600.0,455.8 1601.6,450.7 1603.3,448.3C1605.0,445.9 1606.6,443.6 1608.3,443.3C1610.4,443.0 1612.4,442.8 1614.5,442.8C1616.6,442.8 1618.7,445.1 1620.8,445.8C1622.5,446.3 1624.1,447.0 1625.8,447.0C1627.0,447.0 1628.3,444.2 1629.5,442.0C1630.7,439.8 1632.0,435.1 1633.2,432.0C1634.5,428.9 1635.7,424.4 1637.0,423.3C1638.7,421.9 1640.3,420.8 1642.0,420.8C1644.1,420.8 1646.1,420.8 1648.2,420.8C1650.3,420.8 1652.4,423.1 1654.5,425.0C1656.6,426.8 1658.6,431.6 1660.7,433.3C1662.8,435.0 1664.8,437.0 1666.9,437.0C1668.6,437.0 1670.2,435.2 1671.9,433.3C1673.6,431.4 1675.2,425.2 1676.9,420.8C1678.6,416.4 1680.2,410.5 1681.9,407.0C1683.6,403.5 1685.2,399.6 1686.9,398.4C1688.1,397.5 1689.4,396.6 1690.6,396.6C1692.0,396.6 1693.5,397.9 1694.9,399.6C1696.0,400.9 1697.0,405.3 1698.1,409.6C1699.4,414.7 1700.6,424.4 1701.9,432.0C1703.1,439.4 1704.4,447.9 1705.6,454.5C1706.8,461.1 1708.1,467.0 1709.3,472.0C1711.0,478.8 1712.6,485.8 1714.3,489.5C1716.4,494.1 1718.5,496.1 1720.6,499.4C1723.1,503.2 1725.5,506.9 1728.0,510.7C1730.1,514.0 1732.2,518.6 1734.3,520.6C1736.4,522.6 1738.4,524.9 1740.5,524.9C1742.6,524.9 1744.7,524.9 1746.8,524.9C1748.9,524.9 1750.9,528.8 1753.0,530.6C1755.1,532.4 1757.1,534.7 1759.2,535.6C1761.3,536.5 1763.4,537.4 1765.5,537.4C1767.6,537.4 1769.6,536.0 1771.7,534.9C1774.2,533.6 1776.7,531.4 1779.2,529.4C1781.3,527.7 1783.3,524.8 1785.4,523.9C1787.9,522.9 1790.4,522.8 1792.9,521.9C1795.0,521.2 1797.1,520.5 1799.2,518.9C1800.8,517.6 1802.5,513.7 1804.1,509.4C1805.4,506.1 1806.6,500.1 1807.9,494.4C1810.0,485.0 1812.1,472.4 1814.2,460.8C1815.8,451.9 1817.4,441.3 1819.0,433.2C1820.7,424.7 1822.3,418.4 1824.0,410.4C1825.6,402.7 1827.2,393.9 1828.8,386.0C1830.2,379.3 1831.5,372.9 1832.9,366.5C1834.5,358.8 1836.2,351.3 1837.8,343.7C1839.4,336.1 1841.1,327.1 1842.7,320.9C1844.0,315.8 1845.4,310.9 1846.7,307.9C1848.3,304.3 1850.0,302.7 1851.6,299.7C1853.2,296.7 1854.9,294.2 1856.5,290.0C1857.9,286.5 1859.2,279.3 1860.6,275.3C1861.9,271.4 1863.3,267.3 1864.6,265.6C1866.2,263.5 1867.9,261.5 1869.5,261.5C1870.9,261.5 1872.2,262.7 1873.6,264.0C1874.9,265.3 1876.3,270.4 1877.6,273.7C1879.0,277.1 1880.3,283.2 1881.7,284.3C1883.3,285.7 1885.0,286.7 1886.6,286.7C1888.2,286.7 1889.9,285.6 1891.5,284.3C1892.8,283.2 1894.2,278.2 1895.5,277.0C1896.9,275.7 1898.2,274.5 1899.6,274.5C1901.0,274.5 1902.3,276.3 1903.7,277.8C1905.3,279.6 1907.0,284.2 1908.6,286.7C1910.2,289.2 1911.8,292.7 1913.4,293.2C1914.8,293.7 1916.1,294.0 1917.5,294.0C1919.1,294.0 1920.8,291.5 1922.4,290.8C1924.0,290.1 1925.7,289.2 1927.3,289.2C1928.9,289.2 1930.6,291.2 1932.2,292.4C1933.8,293.6 1935.4,295.8 1937.0,296.5C1938.9,297.3 1940.8,297.1 1942.7,298.0C1944.1,298.6 1945.4,301.5 1946.8,304.6C1947.9,307.0 1948.9,312.0 1950.0,316.0C1951.1,320.1 1952.2,324.7 1953.3,329.0C1954.4,333.3 1955.5,338.2 1956.6,342.0C1957.7,345.7 1958.7,350.9 1959.8,351.8C1961.2,353.0 1962.5,353.6 1963.9,353.8C1965.5,354.0 1967.2,353.9 1968.8,354.2C1970.1,354.4 1971.5,356.7 1972.8,358.3C1974.4,360.3 1976.1,364.8 1977.7,365.6C1979.6,366.6 1981.5,366.7 1983.4,367.3C1985.6,368.0 1987.7,368.6 1989.9,369.7C1992.1,370.8 1994.2,372.8 1996.4,375.4C1998.0,377.4 1999.7,382.1 2001.3,384.4C2002.7,386.3 2004.0,389.2 2005.4,389.2C2007.3,389.2 2009.1,388.7 2011.0,388.4C2013.7,387.9 2016.5,386.3 2019.2,386.3C2021.9,386.3 2024.6,386.3 2027.3,386.3C2030.0,386.3 2032.8,387.7 2035.5,388.4C2037.7,388.9 2039.8,390.0 2042.0,390.0C2043.9,390.0 2045.8,388.8 2047.7,387.6C2049.6,386.4 2051.5,383.2 2053.4,381.0C2055.3,378.9 2057.1,377.3 2059.0,374.6C2060.4,372.6 2061.8,369.6 2063.2,366.5C2064.3,364.1 2065.3,360.9 2066.4,358.3C2067.6,355.4 2068.8,352.8 2070.0,350.0" fill="none" stroke="#e01000" stroke-width="7.4" stroke-linejoin="round" stroke-linecap="butt"/>
</g>
<rect x="164" y="23.6" width="1906.6" height="1413.4" fill="none" stroke="#000" stroke-width="5.4"/>
<g stroke="#000" stroke-width="5">
<line x1="164.0" y1="1437" x2="164.0" y2="1467"/>
<line x1="300.2" y1="1437" x2="300.2" y2="1453"/>
<line x1="436.4" y1="1437" x2="436.4" y2="1467"/>
<line x1="572.6" y1="1437" x2="572.6" y2="1453"/>
<line x1="708.7" y1="1437" x2="708.7" y2="1467"/>
<line x1="844.9" y1="1437" x2="844.9" y2="1453"/>
<line x1="981.1" y1="1437" x2="981.1" y2="1467"/>
<line x1="1117.3" y1="1437" x2="1117.3" y2="1453"/>
<line x1="1253.5" y1="1437" x2="1253.5" y2="1467"/>
<line x1="1389.7" y1="1437" x2="1389.7" y2="1453"/>
<line x1="1525.9" y1="1437" x2="1525.9" y2="1467"/>
<line x1="1662.0" y1="1437" x2="1662.0" y2="1453"/>
<line x1="1798.2" y1="1437" x2="1798.2" y2="1467"/>
<line x1="1934.4" y1="1437" x2="1934.4" y2="1453"/>
<line x1="2070.6" y1="1437" x2="2070.6" y2="1467"/>
</g>
<text transform="translate(164.0,1533) scale(1.0,1.03)" font-size="61" text-anchor="middle" fill="#000">4000</text>
<text transform="translate(436.4,1533) scale(1.0,1.03)" font-size="61" text-anchor="middle" fill="#000">3500</text>
<text transform="translate(708.7,1533) scale(1.0,1.03)" font-size="61" text-anchor="middle" fill="#000">3000</text>
<text transform="translate(981.1,1533) scale(1.0,1.03)" font-size="61" text-anchor="middle" fill="#000">2500</text>
<text transform="translate(1253.5,1533) scale(1.0,1.03)" font-size="61" text-anchor="middle" fill="#000">2000</text>
<text transform="translate(1525.9,1533) scale(1.0,1.03)" font-size="61" text-anchor="middle" fill="#000">1500</text>
<text transform="translate(1798.2,1533) scale(1.0,1.03)" font-size="61" text-anchor="middle" fill="#000">1000</text>
<text transform="translate(2070.6,1533) scale(1.0,1.03)" font-size="61" text-anchor="middle" fill="#000">500</text>
<line x1="540.0" y1="413.0" x2="540.0" y2="473.5" stroke="#000" stroke-width="7.6"/><polygon points="530.5,470.5 530.5,473.3 532.0,475.3 533.4,486.0 534.7,496.4 535.8,502.2 536.8,504.3 538.1,505.0 541.9,505.0 543.2,504.3 544.2,502.2 545.3,496.4 546.6,486.0 548.0,475.3 549.5,473.3 549.5,470.5" fill="#000"/>
<line x1="746.0" y1="327.0" x2="746.0" y2="385.5" stroke="#000" stroke-width="7.6"/><polygon points="736.5,382.5 736.5,385.3 738.0,387.3 739.4,398.0 740.7,408.4 741.8,414.2 742.8,416.3 744.1,417.0 747.9,417.0 749.2,416.3 750.2,414.2 751.3,408.4 752.6,398.0 754.0,387.3 755.5,385.3 755.5,382.5" fill="#000"/>
<line x1="1433.7" y1="364.5" x2="1433.7" y2="424.5" stroke="#000" stroke-width="7.6"/><polygon points="1424.2,421.5 1424.2,424.3 1425.7,426.3 1427.0,437.0 1428.4,447.4 1429.5,453.2 1430.5,455.3 1431.8,456.0 1435.6,456.0 1436.9,455.3 1437.9,453.2 1439.0,447.4 1440.4,437.0 1441.7,426.3 1443.2,424.3 1443.2,421.5" fill="#000"/>
<line x1="1504.0" y1="285.5" x2="1504.0" y2="424.5" stroke="#000" stroke-width="7.6"/><polygon points="1494.5,421.5 1494.5,424.3 1496.0,426.3 1497.3,437.0 1498.7,447.4 1499.8,453.2 1500.8,455.3 1502.1,456.0 1505.9,456.0 1507.2,455.3 1508.2,453.2 1509.3,447.4 1510.7,437.0 1512.0,426.3 1513.5,424.3 1513.5,421.5" fill="#000"/>
<line x1="1667.5" y1="231.0" x2="1667.5" y2="310.8" stroke="#000" stroke-width="7.6"/><polygon points="1658.0,307.8 1658.0,310.6 1659.5,312.6 1660.8,323.3 1662.2,333.7 1663.3,339.5 1664.3,341.6 1665.6,342.3 1669.4,342.3 1670.7,341.6 1671.7,339.5 1672.8,333.7 1674.2,323.3 1675.5,312.6 1677.0,310.6 1677.0,307.8" fill="#000"/>
<line x1="1654.4" y1="1276.0" x2="1604.7" y2="1230.4" stroke="#000" stroke-width="5.8"/><polygon points="1612.2,1226.7 1610.4,1225.1 1608.2,1224.8 1600.7,1219.3 1593.3,1214.0 1588.9,1211.3 1587.0,1210.7 1585.9,1211.1 1583.7,1213.3 1583.5,1214.6 1584.3,1216.4 1587.4,1220.5 1593.3,1227.4 1599.4,1234.5 1599.9,1236.6 1601.6,1238.2" fill="#000"/>
<line x1="1869.5" y1="1274.0" x2="1796.3" y2="1239.2" stroke="#000" stroke-width="5.8"/><polygon points="1802.3,1233.4 1800.2,1232.4 1798.0,1232.8 1789.1,1229.8 1780.5,1226.9 1775.5,1225.5 1773.6,1225.5 1772.6,1226.2 1771.2,1229.0 1771.3,1230.3 1772.6,1231.7 1776.8,1234.8 1784.5,1239.6 1792.4,1244.6 1793.5,1246.5 1795.6,1247.5" fill="#000"/>
<text transform="translate(537.5,390) scale(1.05,1.03)" font-size="55" text-anchor="middle" fill="#000">3315</text>
<text transform="translate(750.8,303.5) scale(1.02,1.03)" font-size="55" text-anchor="middle" fill="#000">2933</text>
<text transform="translate(1427.6,341.5) scale(1.0,1.03)" font-size="55" text-anchor="middle" fill="#000">1600</text>
<text transform="translate(1510.3,267.5) scale(1.01,1.03)" font-size="55" text-anchor="middle" fill="#000">1537</text>
<text transform="translate(1669,218) scale(1.03,1.03)" font-size="55" text-anchor="middle" fill="#000">1238</text>
<text transform="translate(1680,1340.5) scale(1.02,1.03)" font-size="55" text-anchor="middle" fill="#000">1396</text>
<text transform="translate(1901.5,1329) scale(1.0,1.03)" font-size="55" text-anchor="middle" fill="#000">1067</text>
<text transform="translate(175.5,232) scale(1.007,1.03)" font-size="58.5" text-anchor="start" fill="#e01000">DCF/AL@GO–0.03</text>
<text transform="translate(178.5,595.5) scale(1.0,1.03)" font-size="58.5" text-anchor="start" fill="#4040b0">DCF/AL</text>
<text transform="translate(185.5,956.8) scale(1.0,1.03)" font-size="58.5" text-anchor="start" fill="#e87a00">DCF</text>
<text transform="translate(739,1653.8) scale(1.0,1.03)" font-size="80.7" text-anchor="start" fill="#000">Wavenumber</text>
<text class="paren" transform="translate(1201.5,1650.5) scale(1.26,1.0)" font-size="66" text-anchor="start" fill="#000">（</text>
<text transform="translate(1291,1653.8) scale(1.0,1.03)" font-size="80.7" text-anchor="start" fill="#000">cm</text>
<text transform="translate(1395,1610) scale(1.0,1.03)" font-size="46" text-anchor="start" fill="#000">-1</text>
<text class="paren" transform="translate(1441.5,1650.5) scale(1.26,1.0)" font-size="66" text-anchor="start" fill="#000">）</text>
<text transform="translate(82.2,1077) rotate(-90) scale(1.03,1.0)" font-size="80.7" text-anchor="start" fill="#000">Transmittance</text>
<text class="paren" transform="translate(76,561.3) rotate(-90) scale(1.26,1.05)" font-size="66" text-anchor="start" fill="#000">（</text>
<text transform="translate(82.2,473.6) rotate(-90) scale(1.1,1.0)" font-size="80.7" text-anchor="start" fill="#000">%</text>
<text class="paren" transform="translate(76,381.5) rotate(-90) scale(1.26,1.05)" font-size="66" text-anchor="start" fill="#000">）</text>
</svg></body></html>
